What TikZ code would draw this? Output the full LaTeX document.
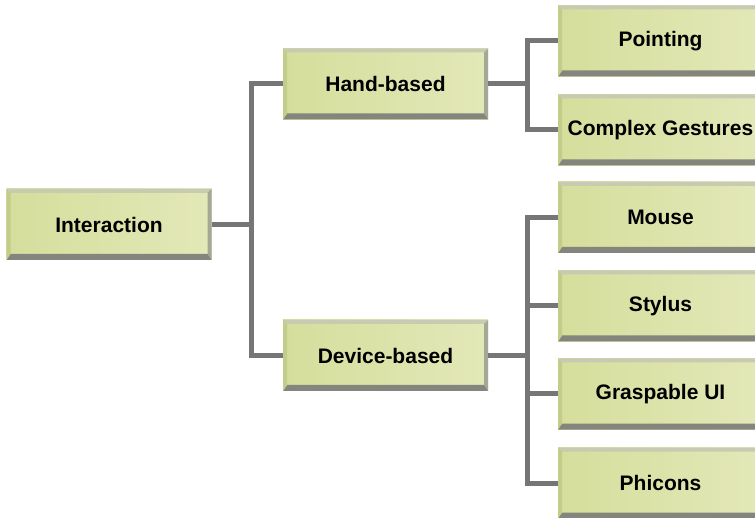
\documentclass[tikz,border=0pt]{standalone}
\usepackage{fontspec}
\setmainfont{Liberation Sans}
\definecolor{boxL}{HTML}{D5DE9C}
\definecolor{boxR}{HTML}{E3E8B8}
\definecolor{bevTop}{HTML}{C8CBB2}
\definecolor{bevBot}{HTML}{84857C}
\definecolor{bevR}{HTML}{A5A797}
\definecolor{bevL}{HTML}{C4CC8A}
\definecolor{connc}{HTML}{767676}
\tikzset{
  bx/.style={minimum width=205pt, minimum height=71pt, inner sep=0pt,
    font=\fontsize{21}{24}\selectfont\bfseries, text=black,
    left color=boxL, right color=boxR,
    path picture={
      \path (path picture bounding box.north west) coordinate (pNW)
            (path picture bounding box.north east) coordinate (pNE)
            (path picture bounding box.south east) coordinate (pSE)
            (path picture bounding box.south west) coordinate (pSW);
      \path ([shift={(4pt,-4pt)}]pNW) coordinate (iNW)
            ([shift={(-4pt,-4pt)}]pNE) coordinate (iNE)
            ([shift={(-4pt,6pt)}]pSE) coordinate (iSE)
            ([shift={(4pt,6pt)}]pSW) coordinate (iSW);
      \fill[bevTop] (pNW) -- (pNE) -- (iNE) -- (iNW) -- cycle;
      \fill[bevR] (pNE) -- (pSE) -- (iSE) -- (iNE) -- cycle;
      \fill[bevBot] (pSE) -- (pSW) -- (iSW) -- (iSE) -- cycle;
      \fill[bevL] (pSW) -- (pNW) -- (iNW) -- (iSW) -- cycle;
    }},
  cn/.style={draw=connc, line width=5pt, line join=miter}
}
\begin{document}
\begin{tikzpicture}[x=1pt,y=-1pt]
\useasboundingbox (0,0) rectangle (755,518);
\node[bx] (inter) at (109,224.5) {Interaction};
\node[bx] (hand) at (385.5,84) {Hand-based};
\node[bx] (dev) at (385.5,355.5) {Device-based};
\node[bx] (point) at (660.5,41) {Pointing};
\node[bx] (complex) at (660.5,130) {Complex Gestures};
\node[bx] (mouse) at (660.5,217.5) {Mouse};
\node[bx] (stylus) at (660.5,306) {Stylus};
\node[bx] (grasp) at (660.5,394) {Graspable UI};
\node[bx] (phicons) at (660.5,483) {Phicons};
\coordinate (jL) at (251,224.5);
\coordinate (jH) at (527,84);
\coordinate (jD) at (527,355.5);
\draw[cn] (inter.east) -- (jL);
\draw[cn] (hand.west) -| (jL) |- (dev.west);
\draw[cn] (hand.east) -- (jH);
\draw[cn] (point.west) -| (jH) |- (complex.west);
\draw[cn] (dev.east) -- (jD);
\draw[cn] (mouse.west) -| (jD) |- (phicons.west);
\draw[cn] (stylus.west) -- (stylus.west -| jD);
\draw[cn] (grasp.west) -- (grasp.west -| jD);
\end{tikzpicture}
\end{document}
